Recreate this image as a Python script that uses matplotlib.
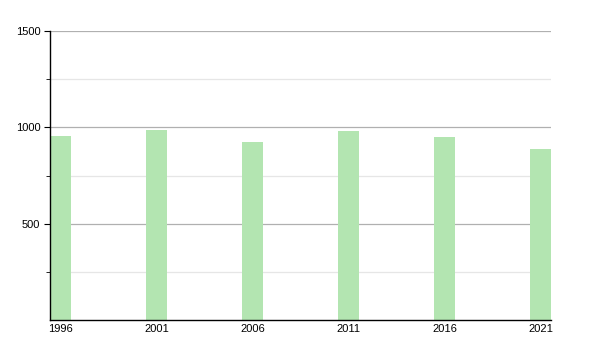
import matplotlib
matplotlib.use("Agg")
import matplotlib.pyplot as plt

years = [1996, 2001, 2006, 2011, 2016, 2021]
population = [957, 986, 922, 979, 948, 886]

plt.rcParams['font.family'] = ['Liberation Sans', 'DejaVu Sans']

fig = plt.figure(figsize=(6, 3.5), dpi=100)
ax = fig.add_axes([50 / 600, 30 / 350, 501 / 600, 289 / 350])

ax.bar(years, population, width=1.1, color='#b3e5b1', edgecolor='none', zorder=3)

ax.set_xlim(1996 - 0.55, 2021 + 0.55)
ax.set_ylim(0, 1500)
ax.set_xticks(years)
ax.set_xticklabels([str(y) for y in years])
ax.set_yticks([500, 1000, 1500])
ax.set_yticks([250, 750, 1250], minor=True)

ax.grid(axis='y', which='major', color='#b0b0b0', lw=0.9, zorder=1)
ax.grid(axis='y', which='minor', color='#e6e6e6', lw=0.9, zorder=1)

for s in ['top', 'right']:
    ax.spines[s].set_visible(False)
ax.spines['left'].set_linewidth(1)
ax.spines['bottom'].set_linewidth(1)
ax.spines['left'].set_zorder(4)
ax.spines['bottom'].set_zorder(4)

ax.tick_params(axis='x', length=0, pad=3, labelsize=8)
ax.tick_params(axis='y', which='major', length=4, labelsize=8, pad=3)
ax.tick_params(axis='y', which='minor', length=3)

fig.savefig('out.png', dpi=100)
